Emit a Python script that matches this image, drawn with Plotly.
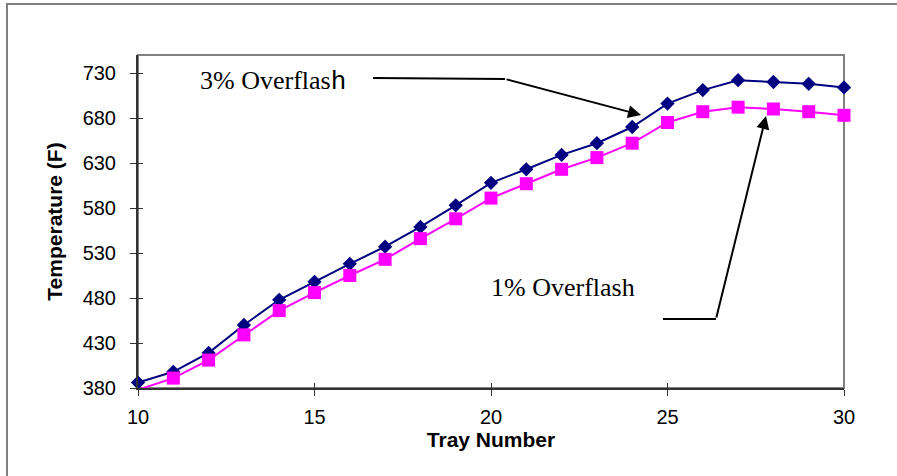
import plotly.graph_objects as go

# Tray temperature profiles for two overflash rates
trays = list(range(10, 31))
temp_3pct = [386, 398, 419, 450, 478, 498, 518, 537, 559, 583, 608,
             623, 639, 652, 670, 696, 711, 722, 720, 718, 714]
temp_1pct = [378, 391, 411, 439, 466, 486, 505, 523, 546, 568, 591,
             607, 623, 636, 652, 675, 687, 692, 690, 687, 683]

x_ticks = [10, 15, 20, 25, 30]
y_ticks = [380, 430, 480, 530, 580, 630, 680, 730]

W, H = 897, 476
L, R, T, B = 138, 844, 55, 388  # plot-area edges in pixels


def paper(px, py):
    """Convert page pixel coordinates to paper coordinates."""
    return (px - L) / (R - L), (B - py) / (B - T)


fig = go.Figure()

fig.add_trace(go.Scatter(
    x=trays, y=temp_3pct, mode="lines+markers", name="3% Overflash",
    line=dict(color="#000080", width=2),
    marker=dict(symbol="diamond", size=11, color="#000080"),
    cliponaxis=False,
))
fig.add_trace(go.Scatter(
    x=trays, y=temp_1pct, mode="lines+markers", name="1% Overflash",
    line=dict(color="#FF00FF", width=2),
    marker=dict(symbol="square", size=13, color="#FF00FF"),
    cliponaxis=False,
))

# invisible trace on overlay axes so the cross ticks render
fig.add_trace(go.Scatter(x=[10], y=[380], xaxis="x2", yaxis="y2",
                         mode="markers", marker=dict(opacity=0),
                         hoverinfo="skip", showlegend=False))

tick_font = dict(family="Liberation Sans, Arial", size=20, color="black")
title_font = dict(family="Liberation Sans, Arial", size=21, color="black")

fig.update_layout(
    width=W, height=H,
    margin=dict(l=L, r=W - R, t=T, b=H - B),
    paper_bgcolor="white", plot_bgcolor="white",
    showlegend=False,
    xaxis=dict(
        range=[10, 30], tickvals=x_ticks, ticks="outside", ticklen=6,
        tickcolor="#333333", tickwidth=1, showgrid=False, zeroline=False,
        showline=True, linecolor="#333333", linewidth=2,
        tickfont=tick_font, ticklabelstandoff=4,
        title=dict(text="<b>Tray Number</b>", font=title_font, standoff=3),
    ),
    yaxis=dict(
        range=[380, 750], tickvals=y_ticks, ticks="outside", ticklen=6,
        tickcolor="#333333", tickwidth=1, showgrid=False, zeroline=False,
        showline=True, linecolor="#333333", linewidth=2,
        tickfont=tick_font, ticklabelstandoff=10,
        title=dict(text="<b>Temperature (F)</b>", font=title_font, standoff=14),
    ),
    xaxis2=dict(range=[10, 30], tickvals=x_ticks, ticks="inside", ticklen=5,
                tickcolor="#333333", showticklabels=False, showgrid=False,
                zeroline=False, overlaying="x", anchor="y2", side="bottom"),
    yaxis2=dict(range=[380, 750], tickvals=y_ticks, ticks="inside", ticklen=5,
                tickcolor="#333333", showticklabels=False, showgrid=False,
                zeroline=False, overlaying="y", anchor="x2", side="left"),
)

shapes = []
# outer chart frame
x0, y1 = paper(7, 4)
x1, y0 = paper(W + 5, H + 5)
shapes.append(dict(type="rect", xref="paper", yref="paper", x0=x0, y0=y0,
                   x1=x1, y1=y1, line=dict(color="#808080", width=2),
                   layer="below"))
# plot-area frame
shapes.append(dict(type="rect", xref="paper", yref="paper", x0=0, y0=0,
                   x1=1, y1=1, line=dict(color="#808080", width=2),
                   layer="below"))
# leader lines for the callouts
for (ax_, ay_), (bx_, by_) in [((373, 78), (505, 79)), ((663, 319), (716, 319))]:
    a = paper(ax_, ay_)
    b = paper(bx_, by_)
    shapes.append(dict(type="line", xref="paper", yref="paper",
                       x0=a[0], y0=a[1], x1=b[0], y1=b[1],
                       line=dict(color="black", width=2)))
fig.update_layout(shapes=shapes)

serif = dict(family="Liberation Serif, Times New Roman", size=26, color="black")
annotations = []
for text, (tx, ty) in [("3% Overflas<span style='font-family:Liberation Mono'>h</span>", (198, 82)),
                       ("1% Overflash", (489, 287))]:
    px_, py_ = paper(tx, ty)
    annotations.append(dict(text=text, x=px_, y=py_, xref="paper", yref="paper",
                            xanchor="left", yanchor="middle", showarrow=False,
                            font=serif))
# arrows: tip and tail in pixels
for (tip, tail) in [((641, 115), (505, 79)), ((766, 116), (716, 319))]:
    tx, ty = paper(*tip)
    annotations.append(dict(text="", x=tx, y=ty, xref="paper", yref="paper",
                            ax=tail[0] - tip[0], ay=tail[1] - tip[1],
                            showarrow=True, arrowhead=2, arrowsize=1.3,
                            arrowwidth=2, arrowcolor="black"))
fig.update_layout(annotations=annotations)

fig.write_html("out.html")
